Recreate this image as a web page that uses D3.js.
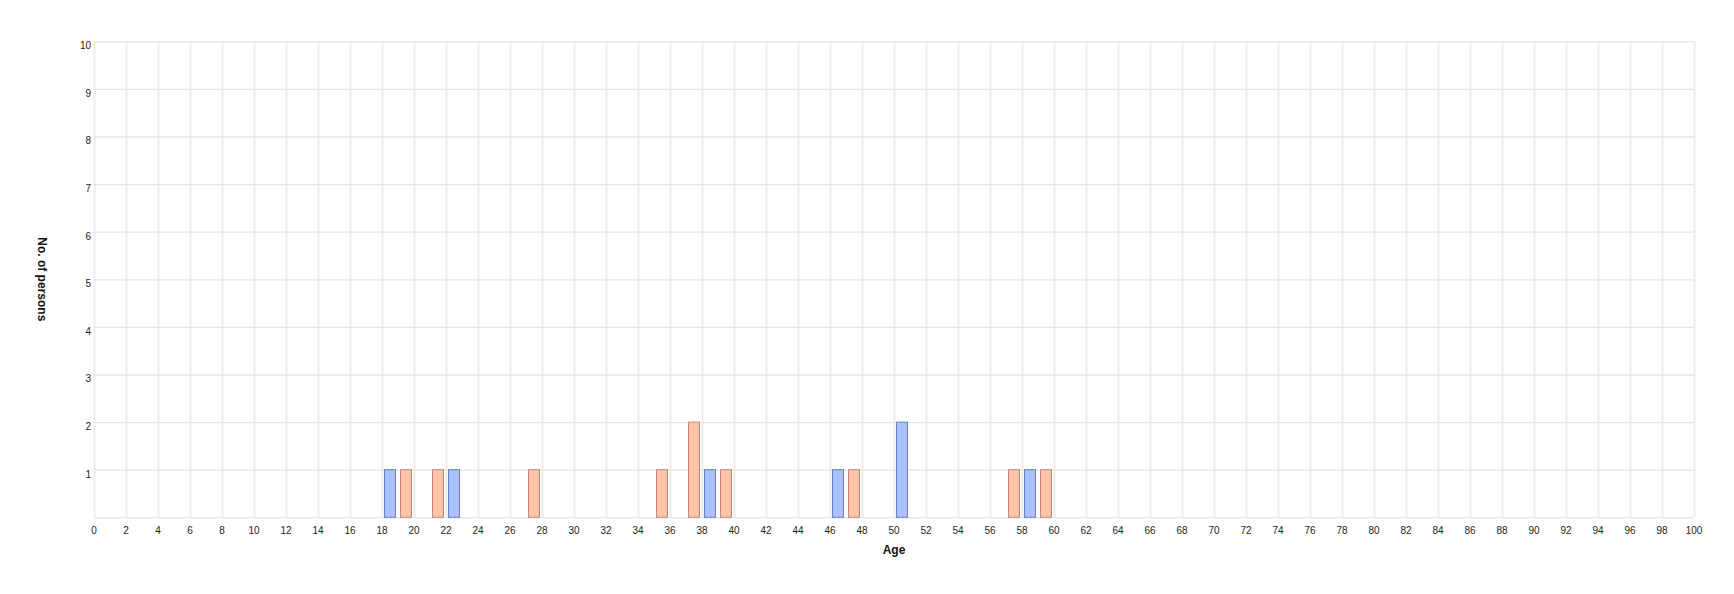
<!DOCTYPE html>
<html lang="en">
<head>
<meta charset="UTF-8">
<title>Age distribution</title>
<script src="https://d3js.org/d3.v7.min.js"></script>
<style>
  body { margin: 0; background: #fff; }
  svg { display: block; font-family: "Liberation Sans", Arial, sans-serif; }
  .grid line { stroke: #e9e9e9; }
  .grid path { display: none; }
  .tick-label { font-size: 10px; fill: #222; }
  .axis-title { font-size: 12px; font-weight: bold; fill: #111; }
</style>
</head>
<body>
<div id="chart"></div>
<script>
// ages with counts, two groups
const blueAges = [18, 22, 38, 46, 50, 58];
const blueCounts = [1, 1, 1, 1, 2, 1];
const orangeAges = [19, 21, 27, 35, 37, 39, 47, 57, 59];
const orangeCounts = [1, 1, 1, 1, 2, 1, 1, 1, 1];

const xTicks = d3.range(0, 101, 2);
const yTicks = [1, 2, 3, 4, 5, 6, 7, 8, 9, 10];
const xTitle = "Age";
const yTitle = "No. of persons";

const W = 1734, H = 594;
const margin = { top: 41.3, right: 40, bottom: 76.7, left: 94 };
const width = W - margin.left - margin.right,
      height = H - margin.top - margin.bottom;

const svg = d3.select("#chart").append("svg")
  .attr("width", W)
  .attr("height", H);

const g = svg.append("g")
  .attr("transform", "translate(" + margin.left + "," + margin.top + ")");

const x = d3.scaleLinear().domain([0, 100]).range([0, width]);
const y = d3.scaleLinear().domain([0, 10]).range([height, 0]);

// vertical grid
g.append("g")
  .attr("class", "grid")
  .attr("transform", "translate(0," + height + ")")
  .call(d3.axisBottom(x).tickValues(xTicks).tickSize(-height).tickFormat(""))
  .selectAll("line").attr("stroke-width", 2).style("stroke", "#eeeeee");

// horizontal grid (including baseline)
g.append("g")
  .attr("class", "grid")
  .call(d3.axisLeft(y).tickValues([0].concat(yTicks)).tickSize(-width).tickFormat(""))
  .selectAll("line").attr("stroke-width", 1.3).style("stroke", "#e4e4e4");

// x tick labels
g.append("g").selectAll("text")
  .data(xTicks)
  .join("text")
  .attr("class", "tick-label")
  .attr("x", d => x(d))
  .attr("y", height + 16.5)
  .attr("text-anchor", "middle")
  .text(d => d);

// y tick labels
g.append("g").selectAll("text")
  .data(yTicks)
  .join("text")
  .attr("class", "tick-label")
  .attr("x", -3)
  .attr("y", d => y(d) + 8)
  .attr("text-anchor", "end")
  .text(d => d);

const barW = 12;

function drawBars(ages, counts, fill, stroke) {
  const data = ages.map((a, i) => ({ age: a, count: counts[i] }));
  g.append("g").selectAll("rect")
    .data(data)
    .join("rect")
    .attr("x", d => x(d.age + 0.5) - barW / 2 + 0.5)
    .attr("y", d => y(d.count))
    .attr("width", barW - 1)
    .attr("height", d => y(0) - y(d.count))
    .attr("fill", fill)
    .attr("stroke", stroke)
    .attr("stroke-width", 1);
}

drawBars(blueAges, blueCounts, "#aac0ff", "#6b80c0");
drawBars(orangeAges, orangeCounts, "#ffc1a8", "#c08a78");

// axis titles
svg.append("text")
  .attr("class", "axis-title")
  .attr("x", margin.left + width / 2)
  .attr("y", 553.5)
  .attr("text-anchor", "middle")
  .text(xTitle);

svg.append("text")
  .attr("class", "axis-title")
  .attr("transform", "translate(38," + (margin.top + height / 2) + ") rotate(90)")
  .attr("text-anchor", "middle")
  .text(yTitle);
</script>
</body>
</html>
